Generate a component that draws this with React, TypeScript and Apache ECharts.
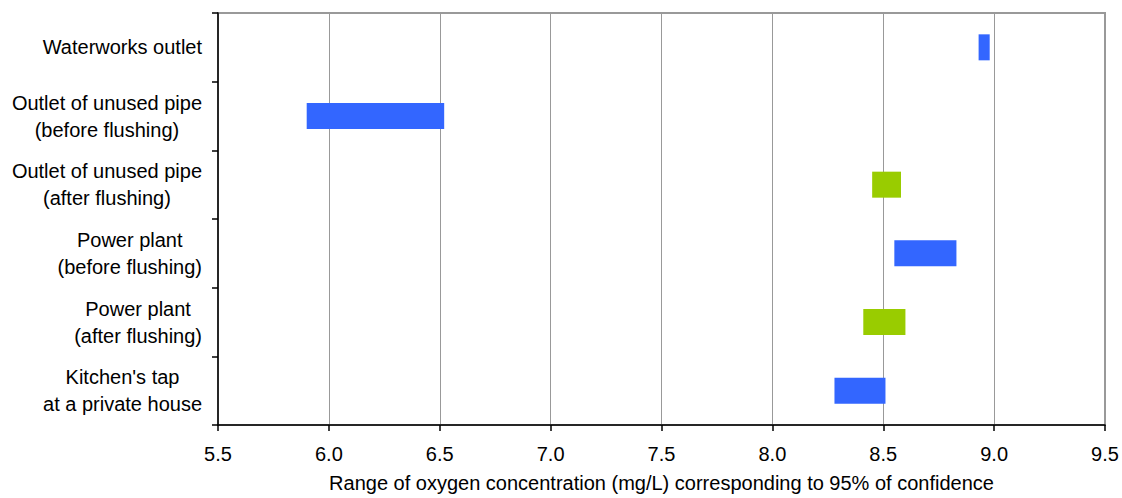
import React, { useEffect, useRef } from "react";
import * as echarts from "echarts";

const categories = [
  "Waterworks outlet",
  "Outlet of unused pipe\n(before flushing)",
  "Outlet of unused pipe\n(after flushing)",
  "Power plant\n(before flushing)",
  "Power plant\n(after flushing)",
  "Kitchen's tap\nat a private house",
];
const lowValues = [8.93, 5.9, 8.45, 8.55, 8.41, 8.28];
const highValues = [8.98, 6.52, 8.58, 8.83, 8.6, 8.51];
const afterFlushing = [false, false, true, false, true, false];
const xTicks = { min: 5.5, max: 9.5, interval: 0.5 };
const xTitle = "Range of oxygen concentration (mg/L) corresponding to 95% of confidence";

const BLUE = "#3366FF";
const GREEN = "#99CC00";
const FONT = "Liberation Sans, Arial, sans-serif";
const FS = 20;

export default function App() {
  const ref = useRef<HTMLDivElement>(null);
  useEffect(() => {
    if (!ref.current) return;
    const chart = echarts.init(ref.current, undefined, { renderer: "svg" });
    chart.setOption({
      animation: false,
      backgroundColor: "#ffffff",
      grid: {
        left: 218,
        right: 17,
        top: 13,
        bottom: 73,
        show: true,
        borderColor: "#999999",
        borderWidth: 2,
        backgroundColor: "transparent",
      },
      xAxis: {
        type: "value",
        min: xTicks.min,
        max: xTicks.max,
        interval: xTicks.interval,
        name: xTitle,
        nameLocation: "middle",
        nameGap: 48,
        nameTextStyle: { color: "#000", fontSize: FS, fontFamily: FONT },
        axisLine: { show: true, onZero: false, lineStyle: { color: "#000", width: 1.5 } },
        axisTick: { show: true, length: 6, lineStyle: { color: "#000", width: 1.5 } },
        axisLabel: {
          color: "#000",
          fontSize: FS,
          fontFamily: FONT,
          margin: 19,
          formatter: (v: number) => v.toFixed(1),
        },
        splitLine: { show: true, lineStyle: { color: "#999999", width: 1 } },
      },
      yAxis: {
        type: "category",
        data: categories,
        inverse: true,
        axisLine: { show: true, lineStyle: { color: "#000", width: 1.5 } },
        axisTick: { show: true, length: 6, lineStyle: { color: "#000", width: 1.5 } },
        splitLine: { show: false },
        axisLabel: {
          color: "#000",
          fontSize: FS,
          fontFamily: FONT,
          margin: 16,
          align: "right",
          lineHeight: 27,
          formatter: (v: string) =>
            v
              .split("\n")
              .map((s) => `{c|${s}}`)
              .join("\n"),
          rich: {
            c: { align: "center", fontSize: FS, fontFamily: FONT, color: "#000", lineHeight: 27 },
          },
        },
      },
      series: [
        {
          type: "bar",
          stack: "range",
          barWidth: 26,
          silent: true,
          itemStyle: { color: "transparent" },
          data: lowValues,
        },
        {
          type: "bar",
          stack: "range",
          barWidth: 26,
          data: highValues.map((h, i) => ({
            value: +(h - lowValues[i]).toFixed(4),
            itemStyle: { color: afterFlushing[i] ? GREEN : BLUE },
          })),
        },
      ],
    });
    return () => chart.dispose();
  }, []);
  return (
    <div
      ref={ref}
      style={{ position: "absolute", left: 0, top: 0, width: 1122, height: 498 }}
    />
  );
}
